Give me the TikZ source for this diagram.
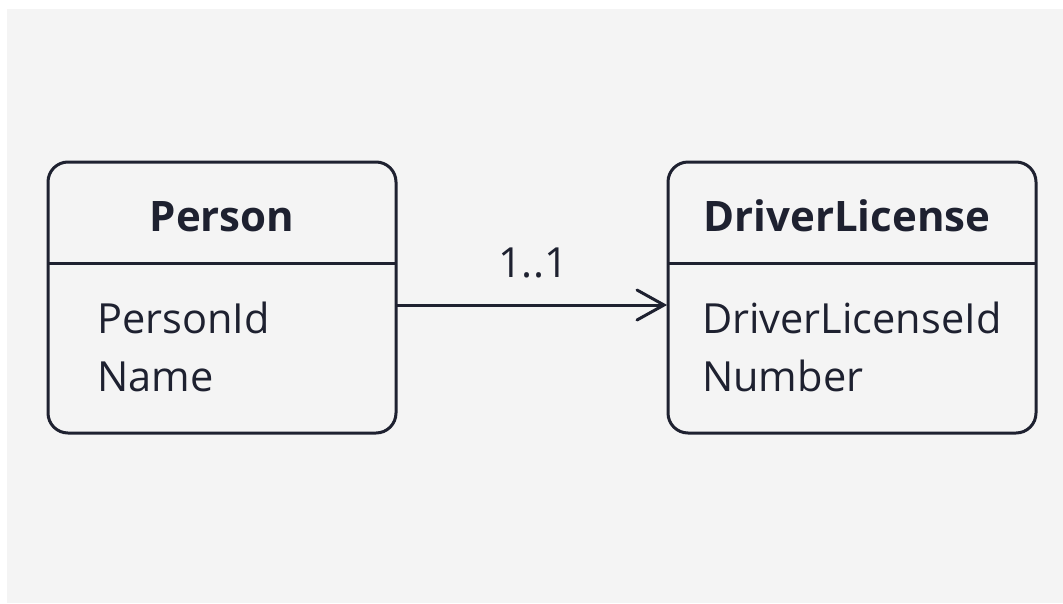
\documentclass[tikz,border=0pt]{standalone}
\usepackage{fontspec}
\setmainfont{Open Sans}
\definecolor{ink}{HTML}{1E2130}
\definecolor{bg}{HTML}{F4F4F4}
\begin{document}
\begin{tikzpicture}[x=1pt,y=-1pt,
  entity/.style={draw=ink, line width=3pt, rounded corners=20pt},
  title/.style={text=ink, font=\fontsize{42}{48}\selectfont\bfseries, anchor=base, inner sep=0pt},
  attr/.style={text=ink, font=\fontsize{41.5}{48}\selectfont, anchor=base west, inner sep=0pt},
  conn/.style={draw=ink, line width=3pt}
]
\useasboundingbox (0,0) rectangle (1063,603);
\fill[bg] (7,9) rectangle (1063,603);
% Person
\draw[entity] (48,162) rectangle (396,433);
\draw[conn] (48,263) -- (396,263);
\node[title] (pt) at (222,231) {Person};
\node[attr] (pa1) at (97,333) {PersonId};
\node[attr] (pa2) at (97,391) {Name};
% DriverLicense
\draw[entity] (668,162) rectangle (1036,433);
\draw[conn] (668,263) -- (1036,263);
\node[title] (dt) at (847,231) {DriverLicense};
\node[attr] (da1) at (702,333) {DriverLicenseId};
\node[attr] (da2) at (702,391) {Number};
% connector
\coordinate (s) at (396,305);
\coordinate (e) at (664,305);
\draw[conn] (s) -- (e);
\draw[conn, line cap=round, line join=miter] (637,290) -- (e) -- (637,320);
\node[attr, anchor=base] (lbl) at (533,277) {1..1};
\end{tikzpicture}
\end{document}
